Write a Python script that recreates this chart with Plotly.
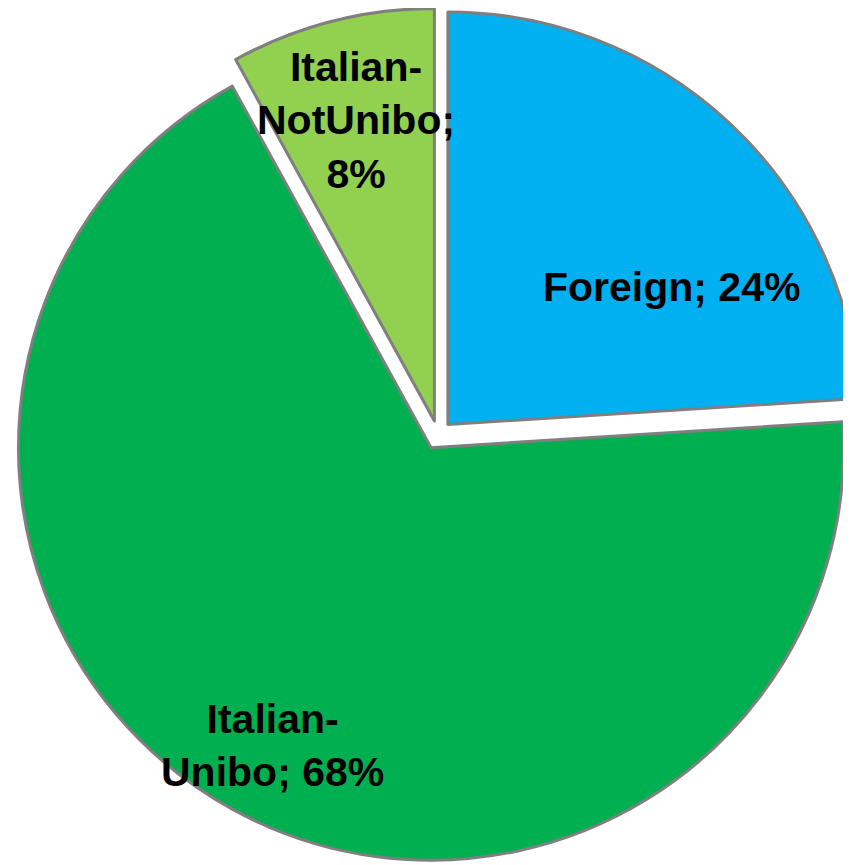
import plotly.graph_objects as go

# ---- data ----
categories = ["Foreign", "Italian-Unibo", "Italian-NotUnibo"]
shares = [24, 68, 8]
label_text = ["Foreign; 24%", "Italian-<br>Unibo; 68%", "Italian-<br>NotUnibo;<br>8%"]
colors = ["#00B0F0", "#00B050", "#92D050"]

# ---- layout constants ----
W, H = 860, 865
MARGIN = dict(l=0, r=0, t=0, b=11)
label_anchor = {  # paper coordinates for the data labels
    "Foreign": (0.771, 0.673),
    "Italian-Unibo": (0.307, 0.137),
    "Italian-NotUnibo": (0.405, 0.868),
}

fig = go.Figure(
    go.Pie(
        labels=categories,
        values=shares,
        textinfo="none",
        sort=False,
        direction="clockwise",
        rotation=0,
        pull=[0.035] * len(categories),
        marker=dict(colors=colors, line=dict(color="#7F7F7F", width=3)),
        hoverinfo="label+percent",
        showlegend=False,
    )
)

for cat, txt in zip(categories, label_text):
    x, y = label_anchor[cat]
    fig.add_annotation(
        x=x, y=y, xref="paper", yref="paper",
        xanchor="center", yanchor="middle",
        text=txt, showarrow=False, align="center",
        font=dict(family="Liberation Sans", size=41, color="black", weight="bold"),
    )

fig.update_layout(
    width=W,
    height=H,
    margin=MARGIN,
    paper_bgcolor="white",
    plot_bgcolor="white",
)

fig.write_html("out.html")
